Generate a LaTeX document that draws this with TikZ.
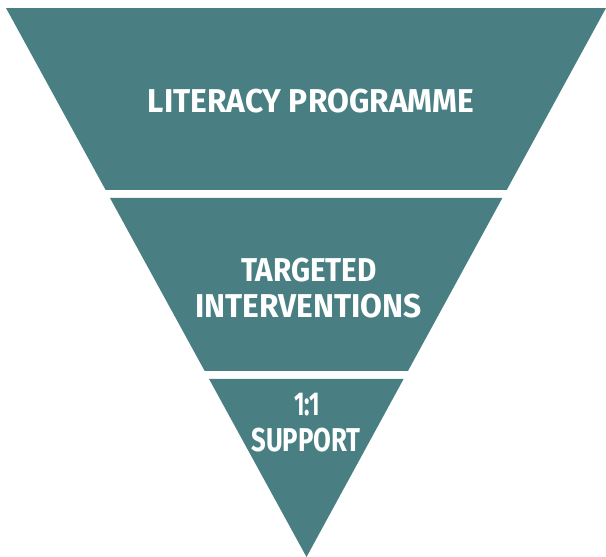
\documentclass[tikz,border=0pt]{standalone}
\usepackage{fontspec}
\setmainfont{Fira Sans}
\usetikzlibrary{calc}
\definecolor{teal}{HTML}{497F83}
\tikzset{
  band/.style={fill=teal, draw=none},
  lbl/.style={text=white, font=\fontsize{33}{33}\selectfont\bfseries, inner sep=0pt, anchor=center}
}
\newcommand{\sq}[2]{\scalebox{#1}[1]{#2}}
\begin{document}
\begin{tikzpicture}[x=1pt,y=-1pt]
\useasboundingbox (0,0) rectangle (606,557);
% bands of the inverted triangle: left edge (6,8)->(306.5,557), right edge (606,8)->(306.5,557)
\coordinate (tl) at (6,8);
\coordinate (tr) at (606,8);
\coordinate (apex) at (306.5,557);
\path[band] (tl) -- (tr) -- ($(tr)!{182/549}!(apex)$) -- ($(tl)!{182/549}!(apex)$) -- cycle;
\path[band] ($(tl)!{190/549}!(apex)$) -- ($(tr)!{190/549}!(apex)$) -- ($(tr)!{363/549}!(apex)$) -- ($(tl)!{363/549}!(apex)$) -- cycle;
\path[band] ($(tl)!{371/549}!(apex)$) -- ($(tr)!{371/549}!(apex)$) -- (apex) -- cycle;
\node[lbl] (lit) at (311,101) {\sq{0.96}{LITERACY PROGRAMME}};
\node[lbl] (tar) at (309,270) {\sq{0.90}{TARGETED}};
\node[lbl] (int) at (308.5,306) {\sq{0.96}{INTERVENTIONS}};
\node[lbl] (one) at (307,405) {\sq{0.68}{1:1}};
\node[lbl] (sup) at (306,440) {\sq{0.78}{SUPPORT}};
\end{tikzpicture}
\end{document}
